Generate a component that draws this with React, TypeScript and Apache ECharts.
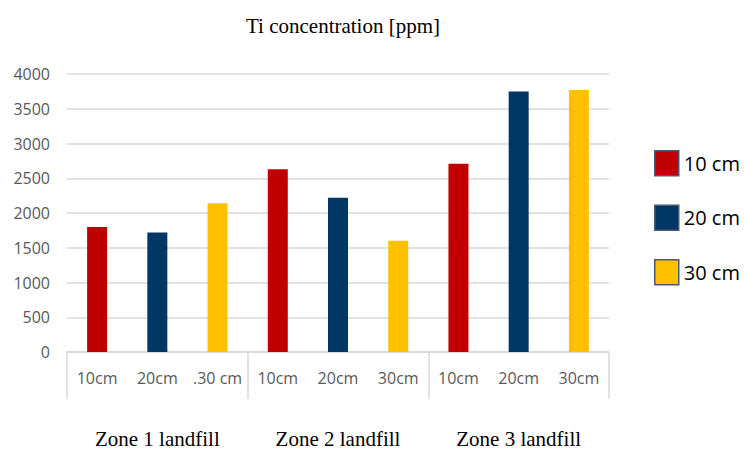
import React, { useEffect, useRef } from "react";
import * as echarts from "echarts";

const depthLabels = ["10cm", "20cm", ".30 cm", "10cm", "20cm", "30cm", "10cm", "20cm", "30cm"];
const zoneLabels = ["Zone 1 landfill", "Zone 2 landfill", "Zone 3 landfill"];
const seriesNames = ["10 cm", "20 cm", "30 cm"];
const values10 = [1800, 2630, 2710];
const values20 = [1720, 2220, 3750];
const values30 = [2140, 1600, 3770];
const colors = ["#C00000", "#003764", "#FFC000"];

function spread(vals: number[], offset: number) {
  const out: (number | null)[] = depthLabels.map(() => null);
  vals.forEach((v, i) => {
    out[i * 3 + offset] = v;
  });
  return out;
}

export default function App() {
  const ref = useRef<HTMLDivElement>(null);
  useEffect(() => {
    document.body.style.margin = "0";
    const chart = echarts.init(ref.current!, null, { renderer: "svg" });
    const all = [values10, values20, values30];
    chart.setOption({
      animation: false,
      backgroundColor: "#ffffff",
      title: {
        text: "Ti concentration [ppm]",
        left: 246,
        top: 15,
        padding: 0,
        textStyle: {
          fontFamily: "Liberation Serif",
          fontWeight: "normal",
          fontSize: 21,
          color: "#000000",
        },
      },
      legend: {
        orient: "vertical",
        left: 649,
        top: 145,
        itemWidth: 24,
        itemHeight: 25,
        itemGap: 28,
        icon: "rect",
        data: seriesNames,
        itemStyle: { borderColor: "#4a5a72", borderWidth: 1.5 },
        textStyle: {
          fontFamily: "Open Sans",
          fontSize: 20,
          color: "#000000",
        },
      },
      grid: { left: 67, right: 137, top: 74, bottom: 95, containLabel: false },
      xAxis: [
        {
          type: "category",
          data: depthLabels,
          position: "bottom",
          axisLine: { show: true, lineStyle: { color: "#d9d9d9", width: 1.5 } },
          axisTick: { show: false },
          axisLabel: {
            interval: 0,
            margin: 18,
            color: "#595959",
            fontFamily: "Open Sans",
            fontSize: 16,
          },
        },
        {
          type: "category",
          data: zoneLabels,
          position: "bottom",
          axisLine: { show: false },
          axisTick: { show: true, length: 47, lineStyle: { color: "#d9d9d9", width: 1.5 } },
          axisLabel: {
            interval: 0,
            margin: 76,
            color: "#000000",
            fontFamily: "Liberation Serif",
            fontSize: 21,
          },
        },
      ],
      yAxis: {
        type: "value",
        min: 0,
        max: 4000,
        interval: 500,
        axisLine: { show: false },
        axisTick: { show: false },
        splitLine: { lineStyle: { color: "#d9d9d9", width: 1.5 } },
        axisLabel: {
          margin: 17,
          color: "#595959",
          fontFamily: "Open Sans",
          fontSize: 16,
          formatter: (v: number) => String(v),
        },
      },
      series: seriesNames.map((name, k) => ({
        name,
        type: "bar",
        xAxisIndex: 0,
        barWidth: 20,
        barGap: "-100%",
        itemStyle: { color: colors[k] },
        data: spread(all[k], k),
      })),
    });
    return () => chart.dispose();
  }, []);
  return <div ref={ref} style={{ width: 746, height: 449 }} />;
}
